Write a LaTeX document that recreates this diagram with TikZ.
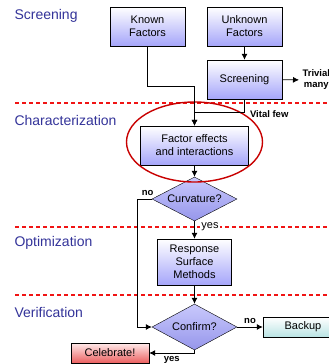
\documentclass[tikz,border=0pt]{standalone}
\usepackage{fontspec}
\setmainfont{Liberation Sans}
\usepackage{tikz}
\usetikzlibrary{arrows.meta,positioning,shapes.geometric,calc}
\definecolor{phaseblue}{RGB}{51,51,153}
\definecolor{boxblue}{RGB}{165,165,250}
\definecolor{diablue}{RGB}{150,150,235}
\definecolor{sepred}{RGB}{240,20,20}
\definecolor{ringred}{RGB}{200,0,0}
\definecolor{celred}{RGB}{235,95,95}
\definecolor{bakteal}{RGB}{185,228,228}

\begin{document}
\begin{tikzpicture}[x=1pt, y=-1pt,
  box/.style={draw, minimum width=75pt, minimum height=39pt, align=center, inner sep=2pt,
    top color=white, bottom color=boxblue, font=\fontsize{11}{13}\selectfont},
  dia/.style={draw, diamond, aspect=1.9, minimum width=85pt, minimum height=44pt, inner sep=0pt,
    top color=white!40!boxblue, bottom color=diablue, font=\fontsize{11}{13}\selectfont},
  phase/.style={anchor=west, text=phaseblue, font=\fontsize{14}{16}\selectfont},
  lab/.style={font=\fontsize{9.5}{11}\selectfont\bfseries, align=center},
  sep/.style={sepred, dashed, dash pattern=on 4pt off 3pt, line width=1.3pt},
  arrow/.style={-{Latex[length=6pt,width=6pt]}, line width=0.8pt},
  line/.style={line width=0.8pt}
]
\useasboundingbox (0,0) rectangle (329,364);

\foreach \y in {103,227,295} {
  \draw[sep] (15,\y) -- (329,\y);
}

\node[phase] (lscreen) at (11,16) {Screening};
\node[phase] (lchar) at (11,120) {Characterization};
\node[phase] (lopt) at (11,243) {Optimization};
\node[phase] (lver) at (11,312) {Verification};

\node[box] (known) at (147.5,26.5) {Known\\Factors};
\node[box] (unknown) at (244.5,26.5) {Unknown\\Factors};
\node[box] (screen) at (244.5,79.5) {Screening};
\node[lab, anchor=west] (trivial) at (299,80) {Trivial\\many};
\node[box, minimum width=108pt] (effects) at (194.5,145.5) {Factor effects\\and interactions};
\node[dia] (curv) at (194.5,199) {Curvature?};
\node[box, minimum width=74pt, minimum height=46pt] (rsm) at (194.5,262) {Response\\Surface\\Methods};
\node[dia, minimum height=46pt] (confirm) at (194.5,327) {Confirm?};
\node[box, minimum width=80pt, minimum height=20pt, bottom color=bakteal] (backup) at (303,327) {Backup};
\node[box, minimum width=78pt, minimum height=20pt, top color=red!8, bottom color=celred] (celebrate) at (110,353) {Celebrate!};

\draw[ringred, line width=1.4pt] (194.5,142) ellipse [x radius=68, y radius=40];

\draw[arrow] (unknown) -- (screen);
\draw[arrow] (screen) -- (trivial);
\draw[arrow] (known.south) -- ++(0,40) -| (effects.north);
\draw[arrow] (screen.south) -- ++(0,13) coordinate (vital) -| (effects.north);
\node[lab, anchor=west] (lvital) at ($(vital)+(2,1.5)$) {Vital few};
\draw[arrow] (effects) -- (curv);
\draw[arrow] (curv) -- (rsm);
\node[lab, font=\fontsize{11}{13}\selectfont, fill=white, inner sep=1pt] (lyes) at (210,227) {yes};
\draw[arrow] (curv.west) -- ++(-14,0) node[lab, above, pos=0.3] (lno) {no} |- (confirm.west);
\draw[arrow] (rsm) -- (confirm);
\draw[arrow] (confirm) -- node[lab, above] (lno2) {no} (backup);
\draw[arrow] (confirm.south) |- node[lab, below, pos=0.75] (lyes2) {yes} (celebrate.east);
\end{tikzpicture}
\end{document}
